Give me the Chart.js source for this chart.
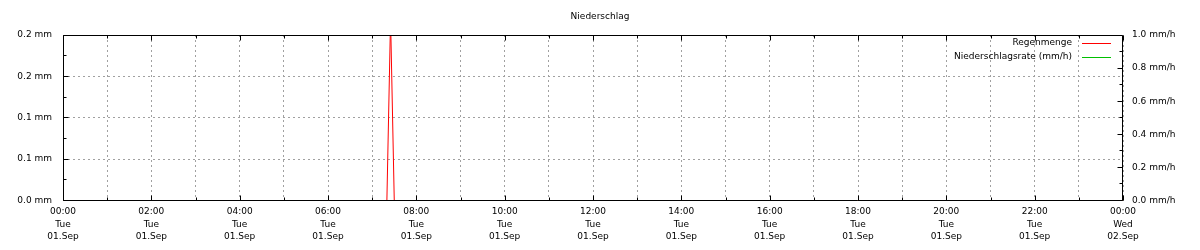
<!DOCTYPE html>
<html>
<head>
<meta charset="utf-8">
<script src="https://cdn.jsdelivr.net/npm/chart.js@4.4.0/dist/chart.umd.min.js"></script>
<style>
  body { margin: 0; background: #fff; }
</style>
</head>
<body>
<canvas id="rainChart" width="1200" height="250"></canvas>
<script>
// minutes since 00:00 on 01.Sep
const rainTimes = [0, 440, 445, 450, 1440];
const rainAmount = [0, 0, 0.22, 0, 0];   // mm
const rateTimes = [0, 440, 445, 450, 1440];
const rainRate = [0, 0, 0, 0, 0];        // mm/h

const xTimeLabels = ['00:00', '02:00', '04:00', '06:00', '08:00', '10:00', '12:00',
                     '14:00', '16:00', '18:00', '20:00', '22:00', '00:00'];
const xDayLabels = ['Tue', 'Tue', 'Tue', 'Tue', 'Tue', 'Tue', 'Tue',
                    'Tue', 'Tue', 'Tue', 'Tue', 'Tue', 'Wed'];
const xDateLabels = ['01.Sep', '01.Sep', '01.Sep', '01.Sep', '01.Sep', '01.Sep', '01.Sep',
                     '01.Sep', '01.Sep', '01.Sep', '01.Sep', '01.Sep', '02.Sep'];
const yLeftLabels = ['0.0 mm', '0.1 mm', '0.1 mm', '0.2 mm', '0.2 mm'];
const yRightLabels = ['0.0 mm/h', '0.2 mm/h', '0.4 mm/h', '0.6 mm/h', '0.8 mm/h', '1.0 mm/h'];

const seriesColors = ['#ff0000', '#00c000'];

Chart.defaults.font.family = 'DejaVu Sans';
Chart.defaults.font.size = 9;
Chart.defaults.color = '#000';

const gridGrey = '#a0a0a0';

// gnuplot style box with inward ticks
const framePlugin = {
    id: 'frame',
    afterDatasetsDraw(chart) {
        const { ctx, chartArea: a, scales } = chart;
        const L = Math.round(a.left) + 0.5, R = Math.round(a.right) - 0.5;
        const T = Math.round(a.top) + 0.5, B = a.bottom;
        ctx.save();
        ctx.strokeStyle = '#000';
        ctx.lineWidth = 1;
        ctx.setLineDash([]);
        ctx.beginPath();
        ctx.rect(L, T, R - L, B - T);
        scales.x.ticks.forEach((t, i) => {
            const px = Math.round(scales.x.getPixelForValue(t.value)) + 0.5;
            const len = i % 2 === 0 ? 5 : 3;
            ctx.moveTo(px, B); ctx.lineTo(px, B - len);
            ctx.moveTo(px, T); ctx.lineTo(px, T + len);
        });
        scales.y.ticks.forEach((t, i) => {
            const py = Math.round(scales.y.getPixelForValue(t.value) - 0.5) + 0.5;
            const len = i % 2 === 0 ? 5 : 3;
            ctx.moveTo(L, py); ctx.lineTo(L + len, py);
        });
        scales.y2.ticks.forEach((t, i) => {
            const py = Math.round(scales.y2.getPixelForValue(t.value) - 0.5) + 0.5;
            const len = i % 2 === 0 ? 5 : 3;
            ctx.moveTo(R, py); ctx.lineTo(R - len, py);
        });
        ctx.stroke();
        ctx.restore();
    }
};

// key inside the plot, text right aligned, sample line after it
const keyPlugin = {
    id: 'key',
    afterDraw(chart) {
        const { ctx, chartArea: a } = chart;
        chart.data.datasets.forEach((ds, i) => {
            const y = Math.round(a.top + 8 + i * 13.5);
            ctx.save();
            ctx.font = '9px "DejaVu Sans"';
            ctx.textAlign = 'right';
            ctx.textBaseline = 'middle';
            ctx.fillStyle = '#000';
            ctx.fillText(ds.label, a.right - 51, y);
            ctx.fillStyle = seriesColors[i];
            ctx.fillRect(a.right - 41, y, 29, 1);
            ctx.restore();
        });
    }
};

const ctx = document.getElementById('rainChart').getContext('2d');
const rainChart = new Chart(ctx, {
    type: 'line',
    data: {
        datasets: [{
            label: 'Regenmenge',
            data: rainTimes.map((t, i) => ({ x: t, y: rainAmount[i] })),
            borderColor: seriesColors[0],
            borderWidth: 1,
            yAxisID: 'y'
        }, {
            label: 'Niederschlagsrate (mm/h)',
            data: rateTimes.map((t, i) => ({ x: t, y: rainRate[i] })),
            borderColor: seriesColors[1],
            borderWidth: 1,
            yAxisID: 'y2'
        }]
    },
    options: {
        responsive: false,
        animation: false,
        elements: {
            point: { radius: 0 },
            line: { tension: 0 }
        },
        layout: { padding: 0 },
        plugins: {
            legend: { display: false },
            tooltip: { enabled: false },
            title: {
                display: true,
                text: 'Niederschlag',
                color: '#000',
                font: { size: 9, weight: 'normal' },
                padding: { top: 11, bottom: 13.2 }
            }
        },
        scales: {
            x: {
                type: 'linear',
                min: 0,
                max: 1440,
                afterFit: s => { s.height = 49.5; },
                border: { display: false, dash: [2, 3] },
                grid: {
                    color: gridGrey,
                    drawTicks: false
                },
                ticks: {
                    stepSize: 60,
                    autoSkip: false,
                    maxRotation: 0,
                    padding: 5,
                    font: { size: 9, lineHeight: 1.4 },
                    callback: (v, i) => i % 2 === 0
                        ? [xTimeLabels[i / 2], xDayLabels[i / 2], xDateLabels[i / 2]]
                        : ''
                }
            },
            y: {
                position: 'left',
                min: 0,
                max: 0.2,
                afterFit: s => { s.width = 63; },
                border: { display: false, dash: [2, 3] },
                grid: {
                    color: c => c.index % 2 === 0 ? gridGrey : 'rgba(0,0,0,0)',
                    drawTicks: false
                },
                ticks: {
                    stepSize: 0.025,
                    autoSkip: false,
                    padding: 11,
                    callback: (v, i) => i % 2 === 0 ? yLeftLabels[i / 2] : ''
                }
            },
            y2: {
                position: 'right',
                min: 0,
                max: 1.0,
                afterFit: s => { s.width = 77; },
                border: { display: false },
                grid: { display: false, drawTicks: false },
                ticks: {
                    stepSize: 0.1,
                    autoSkip: false,
                    padding: 9,
                    callback: (v, i) => i % 2 === 0 ? yRightLabels[i / 2] : ''
                }
            }
        }
    },
    plugins: [framePlugin, keyPlugin]
});
</script>
</body>
</html>
